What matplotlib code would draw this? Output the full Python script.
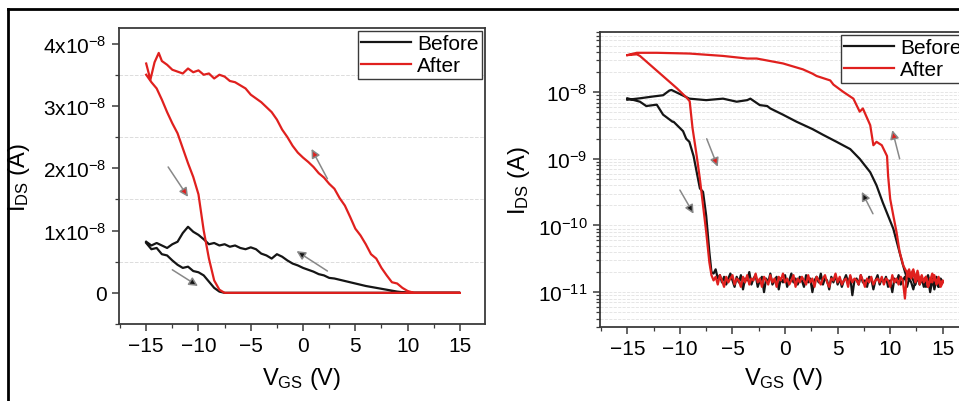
import numpy as np
import matplotlib
matplotlib.use('Agg')
import matplotlib.pyplot as plt
from matplotlib.ticker import MultipleLocator, FuncFormatter, LogLocator, NullFormatter
from matplotlib.lines import Line2D

plt.rcParams['font.family'] = ['Liberation Sans', 'DejaVu Sans']
plt.rcParams['mathtext.fontset'] = 'custom'
plt.rcParams['mathtext.rm'] = 'Liberation Sans'
plt.rcParams['mathtext.it'] = 'Liberation Sans:italic'

# ---- left panel (linear), current in units of 1e-8 A ----
lin_before_v_fwd = [-15, -14.5, -14, -13.5, -13, -12.5, -12, -11.5, -11, -10.5, -10, -9.5, -9, -8.5, -8, -7.5, 15]
lin_before_i_fwd = [0.80, 0.70, 0.72, 0.62, 0.60, 0.52, 0.45, 0.40, 0.42, 0.35, 0.33, 0.28, 0.18, 0.08, 0.02, 0.0, 0.0]
lin_before_v_bwd = [15, 10, 9, 8, 7, 6, 5, 4, 3, 2.5, 2, 1.5, 1, 0.5, 0, -0.5, -1, -1.5, -2, -2.5, -3, -3.5,
                    -4, -4.5, -5, -5.5, -6, -6.5, -7, -7.5, -8, -8.5, -9, -9.5, -10, -10.5, -11, -11.5, -12,
                    -12.5, -13, -13.5, -14, -14.5, -15]
lin_before_i_bwd = [0.0, 0.0, 0.02, 0.05, 0.08, 0.11, 0.15, 0.19, 0.23, 0.24, 0.28, 0.30, 0.34, 0.37, 0.40, 0.44,
                    0.47, 0.52, 0.58, 0.62, 0.55, 0.60, 0.63, 0.70, 0.73, 0.70, 0.72, 0.76, 0.74, 0.78, 0.76, 0.80,
                    0.78, 0.86, 0.93, 0.98, 1.06, 0.96, 0.82, 0.78, 0.72, 0.76, 0.80, 0.76, 0.82]

lin_after_v_fwd = [-15, -14.5, -14, -13.5, -13, -12.5, -12, -11.5, -11, -10.5, -10, -9.5, -9, -8.5, -8, -7.5, 15]
lin_after_i_fwd = [3.50, 3.38, 3.28, 3.10, 2.90, 2.72, 2.56, 2.32, 2.08, 1.86, 1.58, 1.00, 0.55, 0.20, 0.05, 0.0, 0.0]
lin_after_v_bwd = [15, 10.6, 10, 9.5, 9, 8.5, 8, 7.5, 7, 6.5, 6, 5.5, 5, 4.5, 4, 3.5, 3, 2.5, 2, 1.5, 1, 0.5, 0,
                   -0.5, -1, -1.5, -2, -2.5, -3, -3.5, -4, -4.5, -5, -5.5, -6, -6.5, -7, -7.5, -8, -8.5, -9,
                   -9.5, -10, -10.5, -11, -11.5, -12, -12.5, -13, -13.5, -13.8, -14.2, -14.6, -15]
lin_after_i_bwd = [0.0, 0.0, 0.03, 0.08, 0.15, 0.17, 0.28, 0.40, 0.55, 0.62, 0.78, 0.92, 1.03, 1.22, 1.40, 1.52,
                   1.67, 1.75, 1.85, 1.92, 2.02, 2.10, 2.17, 2.25, 2.36, 2.50, 2.62, 2.78, 2.90, 2.98, 3.06, 3.12,
                   3.18, 3.28, 3.33, 3.38, 3.40, 3.47, 3.50, 3.44, 3.52, 3.50, 3.57, 3.54, 3.60, 3.52, 3.55, 3.58,
                   3.66, 3.72, 3.85, 3.70, 3.42, 3.68]

# ---- right panel (log) ----
log_before_v_fwd = [-15, -13.8, -13.2, -12.2, -11.6, -10.7, -10.6, -9.7, -9.4, -9.1, -8.7, -8.4, -8.1, -7.8, -7.5, -7.2, -7.0]
log_before_i_fwd = [8.1e-9, 7.2e-9, 6.2e-9, 6.5e-9, 4.6e-9, 3.6e-9, 3.6e-9, 2.6e-9, 2.0e-9, 1.8e-9, 1.1e-9, 6.3e-10,
                    3.6e-10, 3.2e-10, 1.4e-10, 4e-11, 2e-11]
log_before_v_bwd = [11.6, 11.2, 10.8, 10.3, 9.8, 9.3, 8.7, 8.1, 7.1, 6.2, 4.9, 3.6, 2.6, 1.1, -0.2, -1.4, -1.7,
                    -2.4, -3.3, -3.6, -4.6, -5.9, -7.5, -9.1, -10.8, -11.0, -11.6, -12.6, -13.8, -15]
log_before_i_bwd = [1.6e-11, 2.6e-11, 4.5e-11, 8.9e-11, 1.4e-10, 2.2e-10, 4e-10, 6.3e-10, 1.0e-9, 1.4e-9, 1.8e-9,
                    2.3e-9, 2.8e-9, 3.6e-9, 4.6e-9, 5.7e-9, 6.2e-9, 6.4e-9, 8e-9, 7.6e-9, 7.2e-9, 8e-9, 7.6e-9,
                    8e-9, 1.08e-8, 1.06e-8, 9e-9, 8.6e-9, 8.1e-9, 7.7e-9]

log_after_v_fwd = [-15, -14.1, -13.8, -12.2, -10.3, -9.3, -9.07, -8.8, -8.4, -8.1, -7.8, -7.5, -7.2, -7.0]
log_after_i_fwd = [3.6e-8, 3.7e-8, 3.5e-8, 2.1e-8, 1.15e-8, 8.1e-9, 7.3e-9, 2.9e-9, 1.1e-9, 5e-10, 2e-10, 8e-11,
                   2.8e-11, 1.8e-11]
log_after_v_bwd = [11.8, 11.25, 10.9, 10.6, 10.3, 10.0, 9.8, 9.7, 9.2, 8.7, 8.4, 8.1, 7.4, 7.1, 6.5, 5.5, 4.6,
                   4.3, 3.0, 2.6, 1.7, -0.2, -2.7, -3.6, -5.9, -9.1, -12.2, -13.8, -14.1, -15]
log_after_i_bwd = [1.7e-11, 2.5e-11, 4e-11, 8e-11, 1.4e-10, 2.5e-10, 5.6e-10, 1.1e-9, 1.6e-9, 1.8e-9, 1.6e-9,
                   3.2e-9, 5.7e-9, 5.1e-9, 8e-9, 1.02e-8, 1.3e-8, 1.5e-8, 1.75e-8, 1.9e-8, 2.2e-8, 2.7e-8, 3.2e-8,
                   3.2e-8, 3.5e-8, 3.8e-8, 3.9e-8, 3.9e-8, 3.9e-8, 3.6e-8]

# off-state noise floor (units of 1e-11 A), forward sweep
floor_v = [-6.8, -6.6, -6.4, -6.2, -6.0, -5.8, -5.6, -5.4, -5.2, -5.0,
           -4.8, -4.6, -4.4, -4.2, -4.0, -3.8, -3.6, -3.4, -3.2, -3.0,
           -2.8, -2.6, -2.4, -2.2, -2.0, -1.8, -1.6, -1.4, -1.2, -1.0,
           -0.8, -0.6, -0.4, -0.2, 0.0, 0.2, 0.4, 0.6, 0.8, 1.0,
           1.2, 1.4, 1.6, 1.8, 2.0, 2.2, 2.4, 2.6, 2.8, 3.0,
           3.2, 3.4, 3.6, 3.8, 4.0, 4.2, 4.4, 4.6, 4.8, 5.0,
           5.2, 5.4, 5.6, 5.8, 6.0, 6.2, 6.4, 6.6, 6.8, 7.0,
           7.2, 7.4, 7.6, 7.8, 8.0, 8.2, 8.4, 8.6, 8.8, 9.0,
           9.2, 9.4, 9.6, 9.8, 10.0, 10.2, 10.4, 10.6, 10.8, 11.0,
           11.2, 11.4, 11.6, 11.8, 12.0, 12.2, 12.4, 12.6, 12.8, 13.0,
           13.2, 13.4, 13.6, 13.8, 14.0, 14.2, 14.4, 14.6, 14.8, 15.0]
floor_before = [1.9, 2.2, 1.6, 1.8, 1.4, 1.7, 1.3, 1.6, 1.9, 1.5,
                1.2, 1.7, 1.4, 1.8, 1.1, 1.6, 1.5, 2.0, 1.3, 1.6,
                1.8, 1.2, 1.5, 1.7, 1.0, 1.6, 1.4, 1.9, 1.3, 1.5,
                1.7, 1.1, 1.6, 1.4, 1.8, 1.2, 1.5, 1.9, 1.4, 1.6,
                1.3, 1.7, 1.5, 1.2, 1.8, 1.4, 1.6, 1.0, 1.5, 1.7,
                1.4, 1.9, 1.3, 1.6, 1.5, 1.1, 1.7, 1.4, 1.8, 1.3,
                1.6, 1.2, 1.5, 1.8, 1.4, 1.7, 0.9, 1.5, 1.6, 1.3,
                1.8, 1.4, 1.5, 1.2, 1.7, 1.6, 1.1, 1.5, 1.8, 1.3,
                1.6, 1.4, 1.7, 1.2, 1.5, 1.0, 1.6, 1.4, 1.8, 1.3,
                1.5, 1.7, 1.2, 1.6, 1.4, 1.1, 1.5, 1.7, 1.3, 1.6,
                1.4, 1.2, 1.6, 1.0, 1.5, 1.3, 1.7, 1.2, 1.5, 1.4]
floor_after = [1.5, 1.7, 1.3, 1.8, 1.5, 1.2, 1.7, 1.4, 1.6, 1.8,
               1.3, 1.6, 1.5, 1.2, 1.7, 1.4, 1.8, 1.3, 1.6, 1.5,
               1.9, 1.4, 1.6, 1.2, 1.7, 1.5, 1.3, 1.8, 1.4, 1.6,
               1.2, 1.7, 1.5, 1.9, 1.4, 1.6, 1.3, 1.5, 1.8, 1.2,
               1.6, 1.4, 1.7, 1.5, 1.3, 1.8, 1.4, 1.6, 1.2, 1.7,
               1.5, 1.3, 1.6, 1.8, 1.4, 1.2, 1.6, 1.5, 1.9, 1.4,
               1.7, 1.3, 1.5, 1.6, 1.2, 1.8, 1.4, 1.6, 1.5, 1.3,
               1.8, 1.5, 1.2, 1.6, 1.4, 1.7, 1.3, 1.5, 1.6, 1.4,
               1.7, 1.3, 1.6, 1.5, 1.2, 1.8, 1.4, 1.6, 1.3, 1.7,
               1.5, 0.8, 1.9, 2.2, 1.6, 2.0, 1.4, 1.8, 1.3, 1.6,
               1.5, 1.7, 1.2, 1.6, 1.4, 1.8, 1.3, 1.5, 1.2, 1.4]
# noise floor on the way back, from 15 V down to the turn-on
floor_v_back = [15.0, 14.8, 14.6, 14.4, 14.2, 14.0, 13.8, 13.6, 13.4, 13.2, 13.0, 12.8, 12.6, 12.4, 12.2, 12.0]
floor_before_back = [1.4, 1.6, 1.2, 1.5, 1.1, 1.7, 1.3, 1.8, 1.5, 1.2, 1.6, 1.4, 1.7, 1.3, 1.5, 1.8]
floor_after_back = [1.5, 1.3, 1.7, 1.4, 1.6, 1.9, 1.5, 1.2, 1.7, 1.4, 1.8, 1.5, 2.1, 1.6, 2.2, 1.9]

BLACK = '#151515'
RED = '#e0201e'
SPINE = '#3a3a3a'

fig = plt.figure(figsize=(9.59, 4.02), dpi=100)
ax1 = fig.add_axes([119/959, 1-325/402, 366/959, 296/402])
ax2 = fig.add_axes([600/959, 1-328/402, 368/959, 295/402])

# left panel
e = 1e-8
ax1.plot(lin_before_v_fwd + lin_before_v_bwd,
         [v*e for v in lin_before_i_fwd + lin_before_i_bwd], color=BLACK, lw=1.6, label='Before')
ax1.plot(lin_after_v_fwd + lin_after_v_bwd,
         [v*e for v in lin_after_i_fwd + lin_after_i_bwd], color=RED, lw=1.6, label='After')

# right panel
f = 1e-11
bv = log_before_v_fwd + floor_v + floor_v_back + log_before_v_bwd
bi = log_before_i_fwd + [v*f for v in floor_before] + [v*f for v in floor_before_back] + log_before_i_bwd
av = log_after_v_fwd + floor_v + floor_v_back + log_after_v_bwd
ai = log_after_i_fwd + [v*f for v in floor_after] + [v*f for v in floor_after_back] + log_after_i_bwd
ax2.plot(bv, bi, color=BLACK, lw=1.6, label='Before')
ax2.plot(av, ai, color=RED, lw=1.6, label='After')
ax2.set_yscale('log')

# arrows: gray shaft, colored head
def arrow(ax, tail, head, col):
    ax.annotate('', xy=head, xytext=tail,
                arrowprops=dict(arrowstyle='-|>', mutation_scale=13, lw=1.1, ec='#888888', fc=col,
                                shrinkA=0, shrinkB=0))

arrow(ax1, (-12.9, 2.02e-8), (-11.0, 1.54e-8), RED)
arrow(ax1, (2.33, 1.83e-8), (0.81, 2.31e-8), RED)
arrow(ax1, (2.33, 0.35e-8), (-0.62, 0.67e-8), BLACK)
arrow(ax1, (-12.5, 0.37e-8), (-10.05, 0.11e-8), BLACK)

arrow(ax2, (-7.45, 2.0e-9), (-6.4, 7.6e-10), RED)
arrow(ax2, (-10.0, 3.4e-10), (-8.7, 1.5e-10), BLACK)
arrow(ax2, (8.36, 1.5e-10), (7.3, 3.2e-10), BLACK)
arrow(ax2, (10.9, 1.0e-9), (10.2, 2.7e-9), RED)

# axes styling
for ax in (ax1, ax2):
    ax.set_xlim(-17.6, 17.4)
    ax.set_xticks([-15, -10, -5, 0, 5, 10, 15])
    ax.xaxis.set_minor_locator(MultipleLocator(2.5))
    ax.tick_params(which='major', direction='out', length=5, width=1.1, labelsize=15, color=SPINE, pad=4)
    ax.tick_params(which='minor', direction='out', length=3, width=0.9, color=SPINE)
    for s in ax.spines.values():
        s.set_color(SPINE)
        s.set_linewidth(1.3)
    ax.set_xlabel('V$_{\\rm GS}$ (V)', fontsize=17)
    ax.set_ylabel('I$_{\\rm DS}$ (A)', fontsize=17)
    leg = ax.legend(loc='upper right', bbox_to_anchor=(1.0, 1.0), borderaxespad=0.15, fontsize=15,
                    handlelength=2.4, handletextpad=0.3, labelspacing=0.15, borderpad=0.15,
                    fancybox=False, framealpha=1)
    leg.get_frame().set_edgecolor(SPINE)
    leg.get_frame().set_linewidth(1.0)

ax1.set_ylim(-0.5e-8, 4.25e-8)
ax1.set_yticks([0, 1e-8, 2e-8, 3e-8, 4e-8])
ax1.yaxis.set_minor_locator(MultipleLocator(0.5e-8))
ax1.yaxis.set_major_formatter(FuncFormatter(
    lambda v, p: '0' if abs(v) < 1e-12 else '%dx10$^{-8}$' % round(v / 1e-8)))
ax1.grid(which='minor', axis='y', color='#dcdcdc', ls='--', lw=0.7)
ax1.yaxis.set_label_coords(-0.238, 0.5)
ax1.xaxis.set_label_coords(0.5, -0.14)

ax2.set_ylim(3e-12, 8e-8)
ax2.yaxis.set_major_locator(LogLocator(base=10, numticks=10))
ax2.yaxis.set_minor_locator(LogLocator(base=10, subs=np.arange(2, 10), numticks=20))
ax2.yaxis.set_minor_formatter(NullFormatter())
ax2.grid(which='both', axis='y', color='#e2e2e2', ls='--', lw=0.6)
ax2.yaxis.set_label_coords(-0.185, 0.5)
ax2.xaxis.set_label_coords(0.5, -0.13)

# outer frame (top and left edges of the cropped figure)
fig.add_artist(Line2D([8/959, 1.0], [1-10/402, 1-10/402], transform=fig.transFigure, color='black', lw=2))
fig.add_artist(Line2D([8/959, 8/959], [0.0, 1-10/402], transform=fig.transFigure, color='black', lw=2))

fig.savefig('out.png', dpi=100)
